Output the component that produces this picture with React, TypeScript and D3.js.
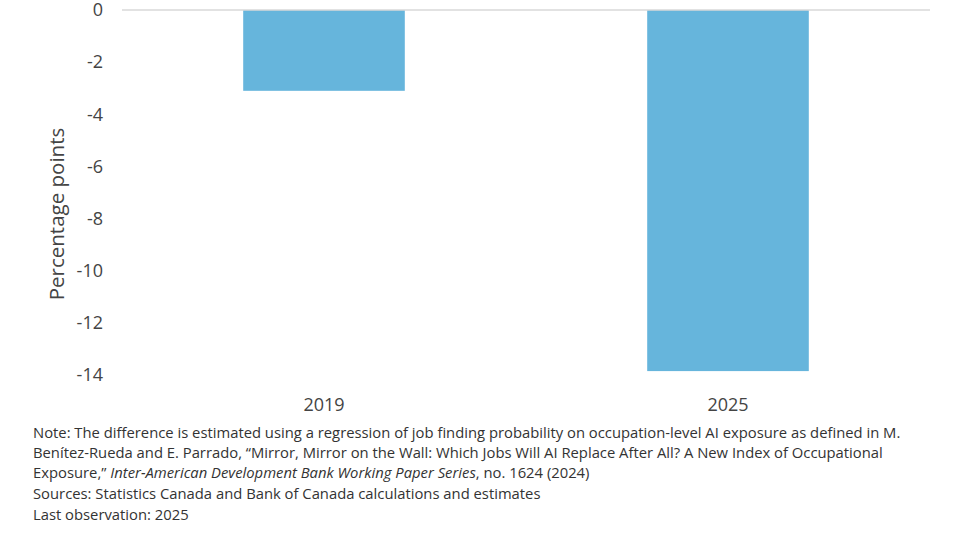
import React from 'react'
import * as d3 from 'd3'

const categories = ['2019', '2025']
const values = [-3.1, -13.85]
const yTicks = [0, -2, -4, -6, -8, -10, -12, -14]

const W = 954
const H = 537
const margin = { top: 10, left: 122, right: 24 }
const plotBottom = 375
const FONT = '"Open Sans", sans-serif'
const TEXT = '#444444'

export default function App() {
  const x = d3.scaleBand<string>()
    .domain(categories)
    .range([margin.left, W - margin.right])
    .padding(0)
  const y = d3.scaleLinear().domain([0, -14]).range([margin.top, plotBottom])
  const barW = x.bandwidth() * 0.4

  return (
    <svg width={W} height={H} style={{ position: 'absolute', left: 0, top: 0, background: '#fff', fontFamily: FONT }}>
      {categories.map((c, i) => (
        <rect key={c}
          x={x(c)! + x.bandwidth() / 2 - barW / 2}
          y={y(0)}
          width={barW}
          height={y(values[i]) - y(0)}
          fill="#66B5DC" />
      ))}
      <line x1={margin.left} x2={W - margin.right} y1={y(0)} y2={y(0)} stroke="#d9d9d9" strokeWidth={1.5} />
      {yTicks.map(t => (
        <text key={t} x={103} y={y(t)} dy="0.35em" textAnchor="end" fontSize={18} fill={TEXT}>{t}</text>
      ))}
      {categories.map(c => (
        <text key={c} x={x(c)! + x.bandwidth() / 2} y={411} textAnchor="middle" fontSize={18} fill={TEXT}>{c}</text>
      ))}
      <text transform={`translate(64,214) rotate(-90)`} textAnchor="middle" fontSize={20.5} fill={TEXT}>Percentage points</text>
      <g fontSize={14.8} fill="#333">
        <text x={33} y={438}>Note: The difference is estimated using a regression of job finding probability on occupation-level AI exposure as defined in M.</text>
        <text x={33} y={458}>Benítez-Rueda and E. Parrado, “Mirror, Mirror on the Wall: Which Jobs Will AI Replace After All? A New Index of Occupational</text>
        <text x={33} y={478}>Exposure,” <tspan fontStyle="italic">Inter-American Development Bank Working Paper Series</tspan>, no. 1624 (2024)</text>
        <text x={33} y={499}>Sources: Statistics Canada and Bank of Canada calculations and estimates</text>
        <text x={33} y={520}>Last observation: 2025</text>
      </g>
    </svg>
  )
}
